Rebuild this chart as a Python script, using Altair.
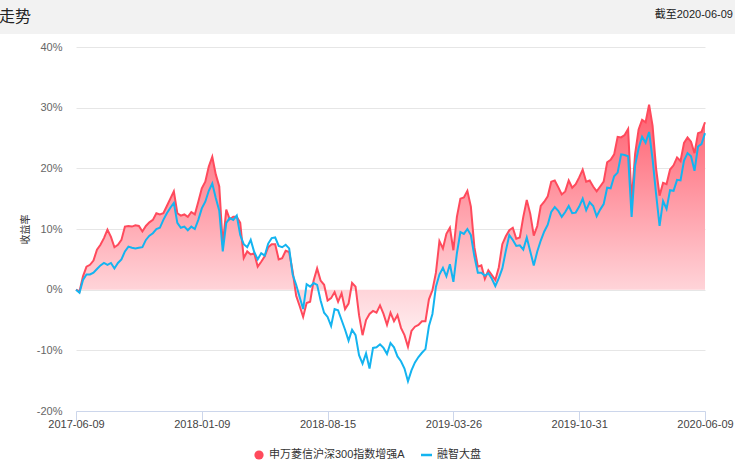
import altair as alt
import pandas as pd

# ---------------- data ----------------
tick_labels = ["2017-06-09", "2018-01-09", "2018-08-15", "2019-03-26", "2019-10-31", "2020-06-09"]
y_ticks = [-20, -10, 0, 10, 20, 30, 40]
fund_name = "申万菱信沪深300指数增强A"
bench_name = "融智大盘"
header_left = "走势"
header_right = "截至2020-06-09"
y_title = "收益率"

fund = [
    0, -0.3, 2.2, 3.8, 4.1, 4.8, 6.6, 7.4, 8.5, 9.9,
    8.7, 7.0, 7.4, 8.2, 10.4, 10.5, 10.4, 10.6, 10.5, 9.6,
    10.5, 11.1, 11.5, 12.6, 12.4, 12.6, 13.8, 15.0, 16.2, 12.6,
    12.2, 12.4, 12.0, 12.8, 12.4, 14.5, 16.7, 17.8, 20.3, 21.9,
    19.0, 17.0, 7.4, 13.2, 11.6, 12.0, 12.0, 11.0, 5.2, 6.3,
    5.8, 6.0, 3.8, 4.6, 5.5, 7.0, 7.5, 7.5, 5.0, 5.2,
    6.4, 6.2, 3.0, -1.0, -2.7, -4.5, -2.2, -2.0, 1.5, 3.5,
    1.5, 0.8, -1.8, -1.4, -0.4, -2.0, -0.6, -3.2, -2.3, 1.1,
    0.5, -4.2, -7.5, -5.0, -4.0, -3.5, -3.8, -2.6, -4.0, -5.8,
    -3.8, -5.2, -4.2, -6.3, -7.5, -9.4, -6.8, -6.1, -5.8, -5.2,
    -5.2, -1.6, -0.1, 2.8, 8.0, 6.8, 9.2, 10.2, 6.5, 12.0,
    15.0, 15.2, 16.3, 13.7, 7.0, 3.8, 4.0, 1.8, 3.2, 2.4,
    1.6, 3.7, 7.5, 8.8, 9.8, 10.2, 8.4, 8.6, 12.0, 14.8,
    12.5, 8.9, 10.5, 13.8, 14.5, 15.4, 17.8, 18.0, 16.9, 15.7,
    16.2, 18.0, 16.8, 17.4, 18.5, 19.8, 17.8, 18.0, 17.0, 16.2,
    17.0, 17.8, 21.0, 21.4, 22.3, 25.2, 25.1, 25.5, 26.5, 14.5,
    22.4, 26.4, 28.0, 27.6, 30.5, 27.0, 20.0, 15.5, 17.6, 17.4,
    19.8, 20.5, 21.8, 21.2, 24.2, 25.1, 24.4, 22.5, 25.8, 26.0, 27.6,
]

bench = [
    0, -0.5, 1.6, 2.5, 2.5, 2.8, 3.4, 4.0, 4.4, 4.1,
    4.4, 3.5, 4.4, 5.0, 6.3, 7.1, 6.9, 6.8, 6.9, 7.0,
    8.2, 8.9, 9.3, 10.0, 10.2, 11.5, 12.6, 13.5, 14.3, 11.0,
    10.2, 10.4, 9.8, 10.4, 10.0, 11.5, 13.4, 14.5, 16.3, 17.5,
    15.1, 13.0, 6.3, 11.0, 11.8, 11.5, 12.2, 9.0, 7.5, 7.0,
    8.2, 6.2, 5.0, 6.0, 5.6, 7.6, 8.5, 8.6, 7.2, 7.0,
    7.4, 6.8, 2.5, 0.8, -1.2, -3.2, 0.9, 0.5, 1.1, 0.8,
    -1.8, -3.8, -4.5, -6.0, -3.2, -3.4, -5.0, -6.6, -8.4, -6.6,
    -7.5, -10.8, -12.2, -10.5, -13.0, -9.6, -9.5, -9.0, -9.6, -10.6,
    -8.8, -9.5, -11.0, -11.8, -13.0, -15.1, -13.3, -12.0, -11.1, -10.4,
    -9.8, -6.0, -4.0, 0.5, 2.5, 3.6, 2.2, 4.2, 1.3, 6.0,
    9.5, 9.2, 10.0, 9.0, 5.5, 2.8, 2.8, 2.3, 2.7, 1.8,
    0.6, 1.9, 3.5, 6.4, 9.0, 8.2, 7.2, 7.3, 6.6, 8.6,
    6.3, 4.0, 6.3, 8.1, 9.6, 10.7, 12.8, 13.6, 13.0, 12.0,
    12.8, 13.8, 12.6, 12.7, 13.7, 15.0, 13.1, 14.4, 13.8, 12.1,
    13.2, 14.1, 16.8, 16.7, 18.7, 19.3, 22.3, 22.2, 22.0, 12.0,
    20.5, 23.3, 25.2, 24.2, 26.0, 21.5, 15.8, 10.5, 14.6, 13.3,
    16.4, 16.3, 18.1, 18.0, 21.3, 22.5, 22.0, 19.6, 23.6, 24.0, 25.8,
]

# trading-day index (one sample every 4 trading days)
step = 4
days = [i * step for i in range(len(fund))]
N = days[-1]
n_int = len(tick_labels) - 1
tick_vals = [N * k / n_int for k in range(len(tick_labels))]

df = pd.DataFrame({"d": days, "fund": fund, "bench": bench})
one = pd.DataFrame({"a": [0]})

# ---------------- style ----------------
FONT = "Liberation Sans, Noto Sans CJK SC, sans-serif"
RED = "#ff4a5c"
BLUE = "#14b4f0"
W, H = 629, 364
PAD_L, PAD_T, PAD_R, PAD_B = 76, 47, 30, 54

label_expr = "[" + ",".join("'%s'" % t for t in tick_labels) + "][round(datum.value/%s)]" % (N / n_int)

x_axis = alt.Axis(values=tick_vals, labelExpr=label_expr, title=None, grid=False,
                  domainColor="#ccd6eb", tickColor="#ccd6eb", tickSize=10,
                  labelPadding=-3, labelFontSize=11, labelColor="#444", labelFont=FONT,
                  labelOverlap=False, labelFlush=False, labelBound=False)
x_enc = alt.X("d:Q", scale=alt.Scale(domain=[0, N], nice=False, zero=False), axis=x_axis)

y_axis = alt.Axis(values=y_ticks, labelExpr="datum.value + '%'", title=y_title,
                  titleFontSize=10, titleFontWeight="normal", titleColor="#333", titleFont=FONT,
                  titleX=-51, titleY=H / 2, titleBaseline="middle", titleAngle=270,
                  grid=True, gridColor="#e6e6e6", domain=False, ticks=False,
                  labelPadding=14, labelFontSize=11, labelColor="#666", labelFont=FONT)
y_scale = alt.Scale(domain=[y_ticks[0], y_ticks[-1]], nice=False, zero=False)


def y_enc(field):
    return alt.Y(field + ":Q", scale=y_scale, axis=y_axis)


gradient = alt.Gradient(
    gradient="linear",
    stops=[alt.GradientStop(color="#ff5e6e", offset=0),
           alt.GradientStop(color="#ffa3ad", offset=0.45),
           alt.GradientStop(color="#ffd3d8", offset=0.76),
           alt.GradientStop(color="#fff5f6", offset=1)],
    x1=1, x2=1, y1=0, y2=1,
)

area = alt.Chart(df).mark_area(color=gradient).encode(
    x=x_enc, y=y_enc("fund"), y2=alt.datum(0))
red_line = alt.Chart(df).mark_line(color=RED, strokeWidth=2).encode(x=x_enc, y=y_enc("fund"))
blue_line = alt.Chart(df).mark_line(color=BLUE, strokeWidth=2).encode(x=x_enc, y=y_enc("bench"))

# header band
header = alt.Chart(one).mark_rect(color="#f2f2f2").encode(
    x=alt.value(-PAD_L), x2=alt.value(W + PAD_R), y=alt.value(-PAD_T), y2=alt.value(-13))
h_left = alt.Chart(one).mark_text(align="left", baseline="middle", fontSize=16, font=FONT,
                                  color="#222").encode(
    x=alt.value(-PAD_L - 1), y=alt.value(-30), text=alt.value(header_left))
h_right = alt.Chart(one).mark_text(align="right", baseline="middle", fontSize=11, font=FONT,
                                   color="#222").encode(
    x=alt.value(W + PAD_R - 2), y=alt.value(-32), text=alt.value(header_right))

# legend
leg_y = 408
leg_dot = alt.Chart(one).mark_point(filled=True, size=85, color=RED, opacity=1).encode(
    x=alt.value(183), y=alt.value(leg_y))
leg_t1 = alt.Chart(one).mark_text(align="left", baseline="middle", fontSize=11, font=FONT,
                                  color="#333").encode(
    x=alt.value(193), y=alt.value(leg_y), text=alt.value(fund_name))
leg_dash = alt.Chart(one).mark_rule(color=BLUE, strokeWidth=2.5).encode(
    x=alt.value(345), x2=alt.value(356), y=alt.value(leg_y))
leg_t2 = alt.Chart(one).mark_text(align="left", baseline="middle", fontSize=11, font=FONT,
                                  color="#333").encode(
    x=alt.value(361), y=alt.value(leg_y), text=alt.value(bench_name))

chart = alt.layer(
    header, h_left, h_right, area, red_line, blue_line, leg_dot, leg_t1, leg_dash, leg_t2
).properties(
    width=W, height=H,
    autosize=alt.AutoSizeParams(type="none"),
    padding={"left": PAD_L, "top": PAD_T, "right": PAD_R, "bottom": PAD_B},
    background="white",
).configure_view(strokeWidth=0)

chart.save("out.html", embed_options={"renderer": "svg", "actions": False})
